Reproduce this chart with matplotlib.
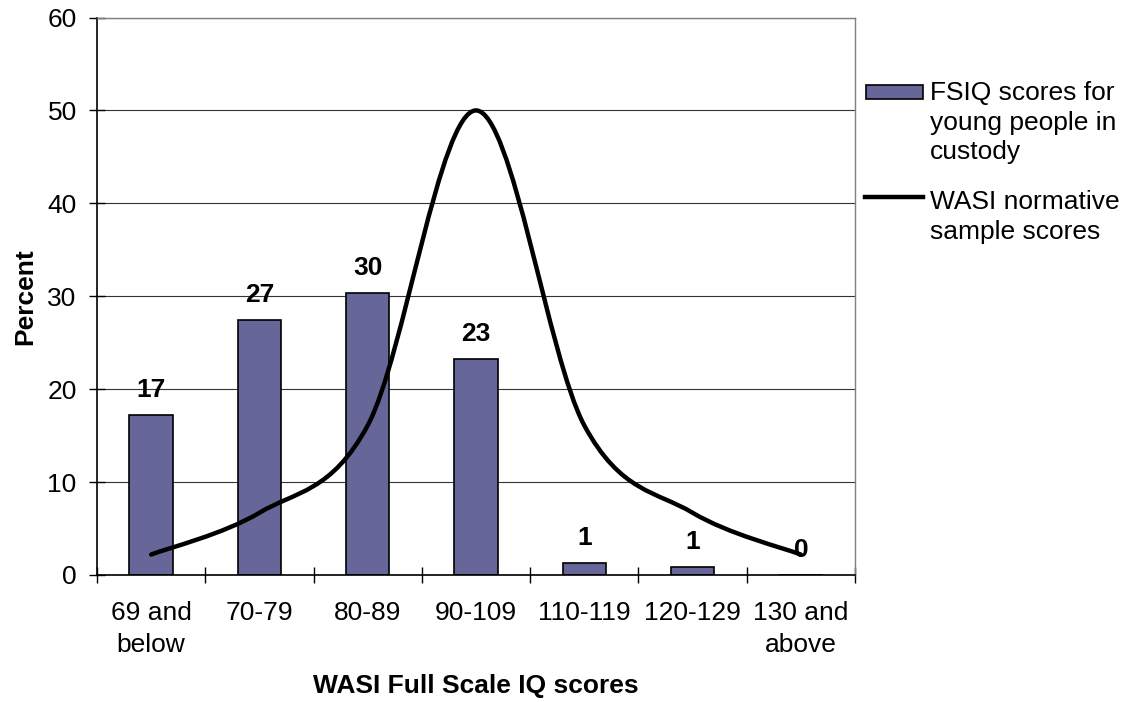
import matplotlib
matplotlib.use("Agg")
import matplotlib.pyplot as plt
import numpy as np
from matplotlib.path import Path
from matplotlib.patches import PathPatch, Rectangle
from matplotlib.lines import Line2D
from matplotlib.ticker import FixedLocator, NullFormatter

# ---- data ----
categories = ["69 and\nbelow", "70-79", "80-89", "90-109", "110-119", "120-129", "130 and\nabove"]
fsiq_percent = [17.2, 27.4, 30.3, 23.2, 1.3, 0.9, 0.0]
fsiq_labels = ["17", "27", "30", "23", "1", "1", "0"]
wasi_norm_percent = [2.2, 6.7, 16.1, 50.0, 16.1, 6.7, 2.2]
yticks = [0, 10, 20, 30, 40, 50, 60]
bar_name = "FSIQ scores for\nyoung people in\ncustody"
line_name = "WASI normative\nsample scores"

plt.rcParams['font.family'] = ['Liberation Sans', 'DejaVu Sans']
FS = 19

W, H = 1125, 702
fig = plt.figure(figsize=(W / 100, H / 100), dpi=100)
L, R, T, B = 97, 855, 17.5, 575
ax = fig.add_axes([L / W, 1 - B / H, (R - L) / W, (B - T) / H])

x = np.arange(len(categories))
bar_color = "#666699"

# gridlines
ax.set_axisbelow(True)
ax.yaxis.grid(True, color="#333333", linewidth=0.8)

bars = ax.bar(x, fsiq_percent, width=0.4, color=bar_color, edgecolor="black",
              linewidth=1.2, zorder=2)

# data labels
for xi, v, lab in zip(x, fsiq_percent, fsiq_labels):
    ax.annotate(lab, (xi, v), xytext=(0, 13), textcoords="offset points",
                ha="center", va="baseline", fontsize=FS, fontweight="bold", zorder=5)

# smoothed line (Catmull-Rom style bezier as in spreadsheet smoothing)
pts = np.column_stack([x.astype(float), np.asarray(wasi_norm_percent, float)])
n = len(pts)
verts = [tuple(pts[0])]
codes = [Path.MOVETO]
for i in range(n - 1):
    p0 = pts[i - 1] if i > 0 else pts[i]
    p1 = pts[i]
    p2 = pts[i + 1]
    p3 = pts[i + 2] if i + 2 < n else pts[i + 1]
    c1 = p1 + (p2 - p0) / 6.0
    c2 = p2 - (p3 - p1) / 6.0
    verts += [tuple(c1), tuple(c2), tuple(p2)]
    codes += [Path.CURVE4, Path.CURVE4, Path.CURVE4]
curve = PathPatch(Path(verts, codes), facecolor="none", edgecolor="black",
                  linewidth=3.2, capstyle="round", joinstyle="round", zorder=4)
ax.add_patch(curve)

# axes limits & ticks
ax.set_xlim(-0.5, len(categories) - 0.5)
ax.set_ylim(0, 60)
ax.set_yticks(yticks)
ax.set_yticklabels([str(t) for t in yticks])
ax.set_xticks(x)
ax.set_xticklabels(categories, linespacing=1.4)
ax.xaxis.set_minor_locator(FixedLocator(np.arange(-0.5, len(categories), 1.0)))
ax.xaxis.set_minor_formatter(NullFormatter())
ax.tick_params(axis="x", which="major", length=0, pad=19, labelsize=FS)
ax.tick_params(axis="x", which="minor", direction="inout", length=11, width=1,
               color="black")
ax.tick_params(axis="y", which="major", direction="inout", length=12, width=1,
               pad=8.6, labelsize=FS, color="black")

for s in ["left", "bottom"]:
    ax.spines[s].set_color("black")
    ax.spines[s].set_linewidth(1.2)
for s in ["top", "right"]:
    ax.spines[s].set_color("#808080")
    ax.spines[s].set_linewidth(1.0)

# axis titles
ax.set_xlabel("WASI Full Scale IQ scores", fontsize=FS, fontweight="bold")
ax.xaxis.label.set_va("baseline")
ax.xaxis.set_label_coords(0.5, (B - 693) / (B - T))
ax.set_ylabel("Percent", fontsize=FS, fontweight="bold")
ax.yaxis.label.set_va("baseline")
ax.yaxis.set_label_coords((32 - L) / (R - L), 0.5)

# legend (handles aligned to first text line)
fig.add_artist(Rectangle((866 / W, 1 - 99 / H), 57 / W, 14 / H,
                         transform=fig.transFigure, facecolor=bar_color,
                         edgecolor="black", linewidth=1.2))
fig.text(930 / W, 1 - 81 / H, bar_name, fontsize=FS, va="top", ha="left",
         linespacing=1.3)
fig.add_artist(Line2D([865 / W, 923 / W], [1 - 197 / H, 1 - 197 / H],
                      transform=fig.transFigure, color="black", linewidth=3.2))
fig.text(930 / W, 1 - 190 / H, line_name, fontsize=FS, va="top", ha="left",
         linespacing=1.3)

fig.savefig("out.png", dpi=100, facecolor="white")
